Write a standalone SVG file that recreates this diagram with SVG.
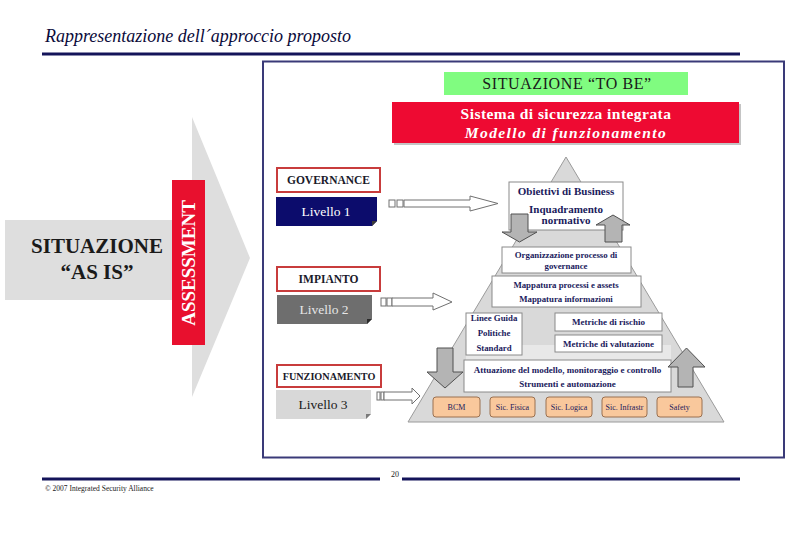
<svg xmlns="http://www.w3.org/2000/svg" width="810" height="540" viewBox="0 0 810 540">
<defs>
<style>
.serif{font-family:"Liberation Serif","Times New Roman",serif}
.pbox{fill:#ffffff;stroke:#8a8a8a;stroke-width:1}
.ptxt{font-family:"Liberation Serif","Times New Roman",serif;font-weight:bold;fill:#1a1a5c;text-anchor:middle}
.lbox{fill:#ffffff;stroke:#c83c3c;stroke-width:2}
.ltxt{font-family:"Liberation Serif","Times New Roman",serif;font-weight:bold;font-size:11.5px;fill:#1a1a2a;text-anchor:middle}
.obox{fill:#f9c89c;stroke:#9a7050;stroke-width:1}
.otxt{font-family:"Liberation Serif","Times New Roman",serif;font-size:8px;fill:#1a1a5c;text-anchor:middle}
.conn{fill:#ffffff;stroke:#707070;stroke-width:1}
.garrow{fill:#b4b4b4;stroke:#505050;stroke-width:1}
.rule{fill:#14145a}
</style>
</defs>
<rect width="810" height="540" fill="#ffffff"/>

<!-- header -->
<g id="header">
<text class="serif" x="45" y="42" font-size="18" font-style="italic" fill="#0a0a3a">Rappresentazione dell´approccio proposto</text>
<rect class="rule" x="42" y="52.5" width="698" height="3"/>
</g>

<!-- big gray arrow AS IS -->
<g id="asis">
<polygon points="5,220 192,220 192,117 250,258 192,397 192,300 5,300" fill="#dedede"/>
<text class="serif" x="97" y="253" font-size="21" font-weight="bold" fill="#1a1a1a" text-anchor="middle">SITUAZIONE</text>
<text class="serif" x="97" y="279" font-size="21" font-weight="bold" fill="#1a1a1a" text-anchor="middle">“AS IS”</text>
</g>
<g id="assessment">
<rect x="172" y="180" width="33" height="165" fill="#e8102e"/>
<text class="serif" transform="translate(195,263) rotate(-90)" font-size="19" font-weight="bold" fill="#ffffff" text-anchor="middle">ASSESSMENT</text>
</g>

<!-- frame -->
<rect id="frame" x="263" y="61.5" width="521" height="396" fill="none" stroke="#3a3a78" stroke-width="2"/>

<g id="tobe">
<rect x="444" y="72" width="244" height="23" fill="#80fc80"/>
<text class="serif" x="567" y="89" font-size="16" letter-spacing="0.6" fill="#1a1a1a" text-anchor="middle">SITUAZIONE “TO BE”</text>
</g>
<g id="sistema">
<rect x="394" y="104" width="347" height="41" fill="#8a8a8a" opacity="0.5"/>
<rect x="392" y="102" width="347" height="41" fill="#ee0a32"/>
<text class="serif" x="566" y="119" font-size="15.5" font-weight="bold" letter-spacing="0.45" fill="#ffffff" text-anchor="middle">Sistema di sicurezza integrata</text>
<text class="serif" x="566" y="137.5" font-size="15.5" font-weight="bold" font-style="italic" letter-spacing="1.4" fill="#ffffff" text-anchor="middle">Modello di funzionamento</text>
</g>

<!-- pyramid -->
<g id="pyramid">
<polygon points="566,157 408,422 724,422" fill="#d9d9d9" stroke="#9a9a9a" stroke-width="1"/>
<rect x="466" y="345" width="205" height="15" fill="#e8e8e8"/>
</g>

<!-- levels -->
<g id="governance">
<rect class="lbox" x="277" y="168" width="103" height="24"/>
<text class="ltxt" x="328.5" y="184">GOVERNANCE</text>
</g>
<g id="livello1">
<polygon points="276,197 377,197 377,221 372,226 276,226" fill="#0c0c6c"/>
<polygon points="372,226 377,221 372,221" fill="#3a3a3a"/>
<text class="serif" x="326" y="216" font-size="13.5" fill="#ffffff" text-anchor="middle">Livello 1</text>
</g>
<g id="impianto">
<rect class="lbox" x="277" y="267" width="103" height="24"/>
<text class="ltxt" x="328.5" y="283">IMPIANTO</text>
</g>
<g id="livello2">
<polygon points="277,295 372,295 372,319 367,324 277,324" fill="#6e6e6e"/>
<polygon points="367,324 372,319 367,319" fill="#2a2a2a"/>
<text class="serif" x="324" y="314" font-size="13.5" fill="#e6e6e6" text-anchor="middle">Livello 2</text>
</g>
<g id="funzionamento">
<rect class="lbox" x="277" y="365" width="104" height="22"/>
<text class="ltxt" x="329" y="380" style="font-size:10.2px">FUNZIONAMENTO</text>
</g>
<g id="livello3">
<polygon points="276,390 371,390 371,414 366,419 276,419" fill="#d8d8d8"/>
<polygon points="366,419 371,414 366,414" fill="#7a7a7a"/>
<text class="serif" x="323" y="409" font-size="13.5" fill="#1a1a1a" text-anchor="middle">Livello 3</text>
</g>

<!-- pyramid boxes -->
<g id="obiettivi">
<rect class="pbox" x="509" y="182" width="114" height="48"/>
<text class="ptxt" x="566" y="195" font-size="11">Obiettivi di Business</text>
<text class="ptxt" x="566" y="213" font-size="11">Inquadramento</text>
<text class="ptxt" x="566" y="224" font-size="11">normativo</text>
</g>
<g id="organizzazione">
<rect class="pbox" x="502" y="247" width="129" height="26"/>
<text class="ptxt" x="566" y="258" font-size="8.8">Organizzazione processo di</text>
<text class="ptxt" x="566" y="269" font-size="8.8">governance</text>
</g>
<g id="mappatura">
<rect class="pbox" x="492" y="276" width="149" height="31"/>
<text class="ptxt" x="566" y="288" font-size="8.8">Mappatura processi e assets</text>
<text class="ptxt" x="566" y="302" font-size="8.8">Mappatura informazioni</text>
</g>
<g id="linee">
<rect class="pbox" x="466" y="313" width="56" height="42"/>
<text class="ptxt" x="494" y="321" font-size="8.8">Linee Guida</text>
<text class="ptxt" x="494" y="336" font-size="8.8">Politiche</text>
<text class="ptxt" x="494" y="351" font-size="8.8">Standard</text>
</g>
<g id="rischio">
<rect class="pbox" x="555" y="313" width="107" height="18"/>
<text class="ptxt" x="608.5" y="325" font-size="9">Metriche di rischio</text>
</g>
<g id="valutazione">
<rect class="pbox" x="555" y="335" width="107" height="17"/>
<text class="ptxt" x="608.5" y="346.5" font-size="9">Metriche di valutazione</text>
</g>
<g id="attuazione">
<rect class="pbox" x="464" y="360" width="207" height="32"/>
<text class="ptxt" x="567.5" y="373" font-size="9">Attuazione del modello, monitoraggio e controllo</text>
<text class="ptxt" x="567.5" y="387" font-size="9">Strumenti e automazione</text>
</g>
<g id="bcm"><rect class="obox" x="433" y="397" width="47" height="20" rx="3"/><text class="otxt" x="456.5" y="410">BCM</text></g>
<g id="fisica"><rect class="obox" x="490" y="397" width="45" height="20" rx="3"/><text class="otxt" x="512.5" y="410">Sic. Fisica</text></g>
<g id="logica"><rect class="obox" x="546" y="397" width="46" height="20" rx="3"/><text class="otxt" x="569" y="410">Sic. Logica</text></g>
<g id="infrastr"><rect class="obox" x="602" y="397" width="45" height="20" rx="3"/><text class="otxt" x="624.5" y="410">Sic. Infrastr</text></g>
<g id="safety"><rect class="obox" x="657" y="397" width="45" height="20" rx="3"/><text class="otxt" x="679.5" y="410">Safety</text></g>

<!-- connectors -->
<g id="connectors">
<rect class="conn" x="389" y="200" width="6" height="7"/>
<rect class="conn" x="397" y="200" width="6" height="7"/>
<polygon class="conn" points="404,200 470,200 470,196 498,203.5 470,211 470,207 404,207"/>

<rect class="conn" x="381" y="298" width="5" height="8"/>
<rect class="conn" x="387" y="298" width="5" height="8"/>
<polygon class="conn" points="392,298 433,298 433,293 452,302 433,310 433,306 392,306"/>

<rect class="conn" x="377" y="392" width="3" height="8"/>
<rect class="conn" x="381" y="392" width="3" height="8"/>
<polygon class="conn" points="384,392 412,392 412,388 420,396 412,404 412,400 384,400"/>

<polygon class="garrow" points="511,214 528,214 528,232 537,232 519.5,242 502,232 511,232"/>
<polygon class="garrow" points="605,242 622,242 622,225 630,225 613,215 596,225 605,225"/>
<polygon class="garrow" points="437,348 453,348 453,372 463,372 445,388 427,372 437,372"/>
<polygon class="garrow" points="678,387 693,387 693,367 705,367 686.5,348 668,367 678,367"/>
</g>

<!-- footer -->
<g id="footer">
<rect class="rule" x="42" y="477.5" width="338" height="3"/>
<rect class="rule" x="402" y="477.5" width="338" height="3"/>
<text class="serif" x="395" y="477" font-size="8" fill="#1a1a1a" text-anchor="middle">20</text>
<text class="serif" x="45" y="491" font-size="7.5" fill="#1a1a1a">© 2007 Integrated Security Alliance</text>
</g>
</svg>
